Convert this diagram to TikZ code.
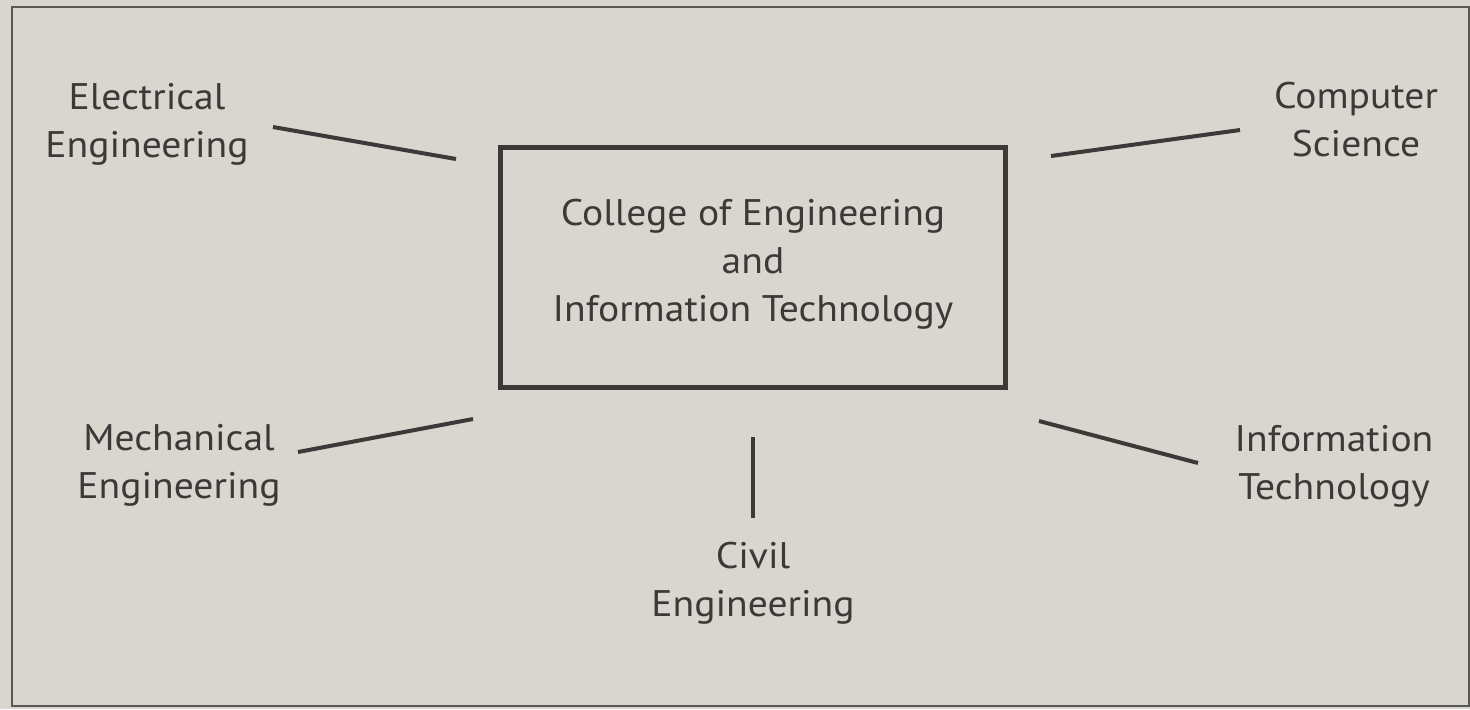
\documentclass[tikz,border=0pt]{standalone}
\usepackage{fontspec}
\setmainfont{PT Sans}[FakeStretch=1.07]
\definecolor{paper}{HTML}{D9D6CF}
\definecolor{ink}{HTML}{3C3A38}
\definecolor{rule}{HTML}{5A5856}
\begin{document}
\begin{tikzpicture}[x=0.5pt,y=-0.5pt,
  lbl/.style={align=center,inner sep=0pt,text=ink,
    font=\fontsize{18.5}{24}\selectfont},
  link/.style={draw=ink,line width=2pt},
  mainbox/.style={draw=ink,line width=2.2pt}]
\useasboundingbox (0,0) rectangle (1470,709);
\fill[paper] (0,0) rectangle (1470,709);
\draw[rule,line width=1pt] (12,7) rectangle (1469,706);
% central box
\node[mainbox,minimum width=252.5pt,minimum height=120pt,inner sep=0pt] (box) at (753,267.5) {};
\node[lbl] (title) at (753,264) {College of Engineering\\and\\Information Technology};
% labels
\node[lbl] (ee) at (147,124) {Electrical\\Engineering};
\node[lbl] (cs) at (1356,120) {Computer\\Science};
\node[lbl] (me) at (179,465) {Mechanical\\Engineering};
\node[lbl] (it) at (1334,466) {Information\\Technology};
\node[lbl] (ce) at (753,583) {Civil\\Engineering};
% connector ends
\coordinate (eeA) at (273,127);  \coordinate (eeB) at (456,159);
\coordinate (csA) at (1240,130); \coordinate (csB) at (1051,156);
\coordinate (meA) at (298,452);  \coordinate (meB) at (473,419);
\coordinate (itA) at (1198,463); \coordinate (itB) at (1039,421);
\coordinate (ceA) at (753,518);  \coordinate (ceB) at (753,437);
\draw[link] (eeA) -- (eeB);
\draw[link] (csA) -- (csB);
\draw[link] (meA) -- (meB);
\draw[link] (itA) -- (itB);
\draw[link] (ceA) -- (ceB);
\end{tikzpicture}
\end{document}
